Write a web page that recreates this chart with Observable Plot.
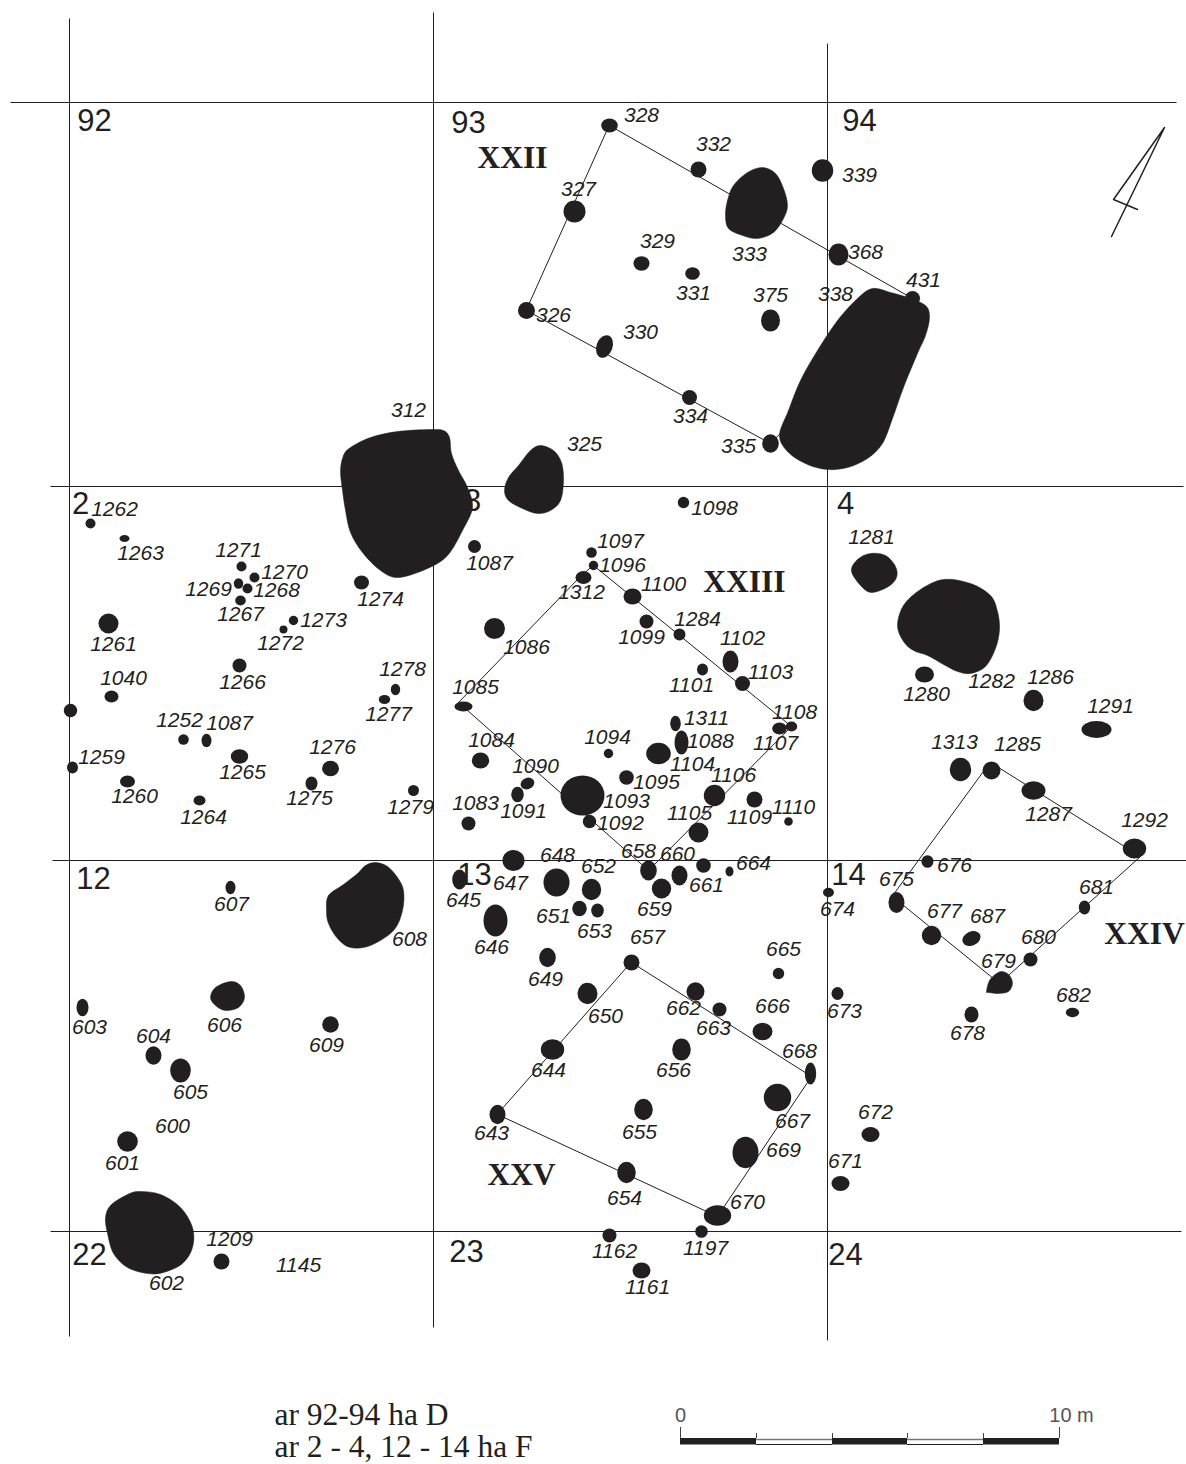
<!DOCTYPE html>
<html><head><meta charset="utf-8">
<script src="https://cdn.jsdelivr.net/npm/d3@7"></script>
<script src="https://cdn.jsdelivr.net/npm/@observablehq/plot@0.6"></script>
<style>html,body{margin:0;padding:0;background:#fff}svg{display:block}</style>
</head><body><div id="chart"></div>
<script>
// grid: [x1,y1,x2,y2]
const gridLines=[[10,102,1176,102],[50,486,1183,486],[52,860,1186,860],[50,1231,1181,1231],[69,18,69,1336],[433,12,433,1327],[827,43,827,1340]];
const squareLabels=[["92",94,121],["93",468,123],["94",859,121],["2",80,504],["3",472,501],["4",845,504],["12",93,879],["13",474,875],["14",848,875],["22",89,1255],["23",466,1252],["24",845,1255]];
const houseLabels=[["XXII",512,157],["XXIII",744,581],["XXIV",1144,933],["XXV",521,1174]];
const houses={
 XXII:[[609,125],[912,298],[770,443],[526,310]],
 XXIII:[[593,565],[791,726],[648,870],[458,702],[578,578]],
 XXIV:[[990,762],[1140,856],[999,983],[892,896]],
 XXV:[[631,962],[811,1076],[717,1216],[497,1114]]
};
// pits: [x,y,rx,ry,rotation]
const pitsWest=[[90,523,5,5],[124,538,5,3.5],[241,566,5,5],[254,577,5,5],[238,583,4.7,5.3],[247,588,5,5],[240,600,5.3,5],[361,582,7.5,7],[293,620,4.7,4.7],[283,629,4,4],[108,623,10,10],[239,665,7,7],[111,696,7,6],[70,710,6.7,6.7],[183,739,5.3,5.3],[206,740,5,6.7],[239,756,8.7,7.3],[72,767,5.5,6],[127,781,7.5,6],[199,800,6,5],[330,768,8.5,7.7],[311,783,6,7],[413,790,5.5,5.5],[395,689,4.7,5.7],[384,699,5.7,4.5]];
const pitsCentre=[[683,502,5.7,5.7],[474,546,6.5,6.5],[591,552,5.3,5.3],[593,565,4.7,4.7],[583,577,8,6.5],[632,596,9,8],[494,628,10.5,10.5],[646,621,7,7],[679,634,6,6],[730,661,8,11],[702,669,5.5,6],[742,683,7.5,7.5],[463,706,9,5],[791,726,5.7,5],[779,728,7.3,6],[675,723,5.3,7.7],[681,742,7,12],[658,753,12.3,10.7],[608,753,4.7,4.7],[480,760,8.7,8],[626,777,7.3,7.3],[527,783,7,5.7,-20],[517,794,6.3,7.7],[582,795,22,20],[714,795,10.7,10.7],[754,799,8,8],[788,821,4.3,4.3],[468,823,7,7],[589,821,6.7,6.7],[698,832,10,10]];
const pitsSouth=[[513,860,11,10.5],[459,879,7.3,10],[556,882,13,14],[591,889,9.7,10.7],[579,908,7.3,7.7],[597,910,6.3,7],[495,920,12,16],[648,870,8.3,10],[679,875,8,10],[661,888,9.7,10],[703,865,7.3,7.3],[729,871,4,5],[828,892,5.5,4.7],[631,962,8,8],[778,973,5.7,5.7],[547,957,8.3,9.7],[587,993,10,10.7],[695,991,9,9.3],[719,1009,7,7],[762,1031,10,8.7],[810,1073,5.7,11],[552,1049,11.7,10.3],[681,1049,9.3,11],[777,1097,13.7,13.7],[643,1109,9.3,10.7],[497,1114,8,9.7],[745,1152,13,15.7],[626,1172,9.3,10.7],[717,1215,13.7,10.3],[701,1231,6.3,6.3],[609,1235,7,7],[641,1270,9,8],[870,1134,9,7.5],[840,1183,9,7.5]];
const pitsEast=[[924,674,9.5,8],[1033,700,10,10.7],[1096,729,15,8.5],[960,769,10.7,11.7],[991,770,9,9],[1033,790,12,9.3],[1134,848,11.7,10],[927,861,6,6.3],[896,902,8,10.5],[1084,907,5.7,7],[931,935,9.7,9.7],[971,938,9.5,7,-25],[1030,959,7,7],[1072,1012,6.7,4.7],[971,1014,7,8],[837,993,6,6.5]];
const pitsNorth=[[609,125,8.3,7],[698,169,8,8],[822,170,10.7,11.3],[574,211,11,11],[641,263,8,7.3],[692,273,7.3,6.3],[838,254,10,11],[770,320,9.5,11],[912,298,7.5,7.5],[526,310,8.5,8.5],[604,346,8,11.7,20],[689,397,7.5,7.5],[770,443,8.3,9.3]];
const pitsSouthWest=[[230,887,5,6.7],[82,1007,6,8.7],[330,1024,8.3,8.3],[153,1055,8,9.3],[180,1070,10.3,12],[127,1141,10.3,10.3],[221,1261,8,8]];
// large irregular pits: outlines
const blobs={
 "1281":[[851,571],[857,559],[870,553],[885,555],[895,566],[896,577],[888,586],[872,592],[862,587]],
 "1282":[[897,625],[903,605],[920,589],[943,579],[970,583],[990,595],[997,611],[999,629],[995,648],[985,666],[970,673],[957,671],[943,664],[927,655],[913,650],[903,641]],
 "679":[[986,991],[989,980],[996,973],[1002,971],[1009,975],[1012,983],[1008,991],[998,993],[988,992]],
 "333":[[725,215],[727,200],[733,185],[747,172],[762,167],[775,173],[783,188],[787,205],[783,218],[773,232],[757,238],[742,235],[728,228]],
 "338":[[779,435],[788,410],[800,380],[817,350],[837,320],[857,298],[872,288],[890,292],[907,297],[925,305],[929,317],[925,335],[917,353],[903,387],[892,418],[882,443],[867,458],[847,467],[827,469],[807,464],[788,452]],
 "325":[[504,490],[508,477],[518,465],[530,450],[540,445],[553,450],[561,462],[563,480],[560,500],[550,510],[537,513],[522,508],[508,500]],
 "312":[[340,470],[343,455],[350,447],[370,437],[397,431],[430,429],[443,430],[449,437],[451,453],[458,470],[467,487],[472,507],[462,530],[447,555],[427,568],[398,577],[380,570],[362,552],[350,532],[345,510],[342,490]],
 "608":[[326,910],[328,895],[343,884],[357,873],[365,865],[375,862],[387,866],[397,877],[403,890],[402,910],[393,930],[370,945],[350,947],[337,938],[328,923]],
 "606":[[210,997],[215,987],[230,981],[240,985],[244,997],[238,1007],[225,1010],[215,1005]],
 "602":[[105,1217],[110,1205],[125,1195],[138,1191],[160,1194],[180,1207],[192,1227],[192,1247],[182,1263],[163,1272],[147,1273],[127,1267],[113,1253],[107,1233]]
};
// pit numbers: [text,x,y]
const numbersWest=[["1262",115,509],["1263",141,553],["1271",239,550],["1270",285,572],["1269",209,589],["1268",277,590],["1267",241,614],["1274",381,599],["1273",324,620],["1272",281,643],["1261",114,644],["1266",243,682],["1278",403,669],["1277",389,714],["1040",124,678],["1252",180,720],["1087",230,723],["1259",102,757],["1265",243,772],["1276",333,747],["1260",135,796],["1275",310,798],["1264",204,817],["1279",411,807]];
const numbersCentre=[["1098",715,508],["1087",490,563],["1097",621,541],["1096",623,565],["1312",582,592],["1100",664,584],["1086",527,647],["1099",642,637],["1284",698,619],["1102",743,638],["1101",692,685],["1103",771,672],["1085",476,687],["1108",795,712],["1107",776,743],["1311",707,718],["1088",711,741],["1104",693,764],["1094",608,737],["1084",492,740],["1095",657,782],["1090",536,766],["1091",524,811],["1093",627,801],["1106",734,775],["1109",750,817],["1110",794,807],["1083",476,803],["1092",621,823],["1105",690,813]];
const numbersSouth=[["647",511,883],["645",464,900],["648",558,855],["652",599,866],["651",554,916],["653",595,931],["646",492,947],["658",639,851],["660",678,854],["659",655,909],["661",707,885],["664",754,863],["657",648,937],["665",784,949],["649",546,979],["650",606,1016],["662",684,1008],["663",714,1028],["666",773,1006],["668",800,1051],["644",549,1070],["656",674,1070],["667",793,1121],["655",640,1132],["643",492,1133],["669",784,1150],["654",625,1198],["670",748,1202],["1197",706,1248],["1162",615,1251],["1161",648,1287],["672",876,1112],["671",846,1161]];
const numbersEast=[["1281",872,537],["1282",992,681],["1280",927,694],["1286",1051,677],["1291",1111,706],["1313",955,742],["1285",1018,744],["1287",1049,814],["1292",1145,820],["676",955,865],["675",897,879],["681",1097,887],["677",945,911],["687",988,916],["680",1039,937],["679",999,961],["682",1074,995],["678",968,1033],["673",845,1011],["674",838,909]];
const numbersNorth=[["328",642,115],["332",714,144],["339",860,175],["333",750,254],["327",579,189],["329",658,241],["331",694,293],["368",866,252],["375",771,295],["338",836,294],["431",924,280],["326",554,315],["330",641,332],["334",691,416],["335",739,446],["325",585,444],["312",409,410]];
const numbersSouthWest=[["607",232,904],["608",410,939],["606",225,1025],["603",90,1027],["609",327,1045],["604",154,1036],["605",191,1092],["600",173,1126],["601",123,1163],["602",167,1283],["1209",230,1239],["1145",299,1265]];
const northArrow=[[1111,236],[1164,127],[1113,199],[1137,209]];
const caption=[["ar 92-94 ha D",274,1414],["ar 2 - 4, 12 - 14 ha F",274,1446.5]];
const scaleBlack=[[680,756],[832,907],[983,1059]];
const scaleWhite=[[756,832],[907,983]];
const scaleTicksLong=[680,1059];
const scaleTicksShort=[756,832,907,983];
const scaleTexts=[["0",680,1415],["10 m",1071,1415]];

const ink="#231f20";
const pits=[...pitsWest,...pitsCentre,...pitsSouth,...pitsEast,...pitsNorth,...pitsSouthWest];
const numbers=[...numbersWest,...numbersCentre,...numbersSouth,...numbersEast,...numbersNorth,...numbersSouthWest];
const blobRows=Object.entries(blobs).flatMap(([k,v])=>v.map(p=>({k,x:p[0],y:p[1]})));
const houseRows=Object.entries(houses).flatMap(([k,v])=>v.map(p=>({k,x:p[0],y:p[1]})));
const meanR=d=>Math.sqrt(d[2]*d[3]);

// a dot is stretched to its ellipse after the library has placed it
function ellipse(index,scales,values,dims,ctx,next){
  const g=next(index,scales,values,dims,ctx);
  g.querySelectorAll("circle").forEach((c,k)=>{
    const d=pits[index[k]],cx=+c.getAttribute("cx"),cy=+c.getAttribute("cy"),r=meanR(d);
    c.setAttribute("transform",`translate(${cx} ${cy}) rotate(${d[4]||0}) scale(${d[2]/r} ${d[3]/r}) translate(${-cx} ${-cy})`);
  });
  return g;
}
const plot=Plot.plot({
  width:1186,height:1464,margin:0,
  x:{domain:[0,1186],range:[0,1186],axis:null},
  y:{domain:[0,1464],range:[0,1464],axis:null},
  r:{type:"identity"},
  style:{background:"#fff"},
  marks:[
    Plot.link(gridLines,{x1:d=>d[0],y1:d=>d[1],x2:d=>d[2],y2:d=>d[3],stroke:ink,strokeWidth:1}),
    Plot.text(squareLabels,{text:d=>d[0],x:d=>d[1],y:d=>d[2],fontSize:31,fontFamily:"Liberation Sans",fill:ink}),
    Plot.line(houseRows,{x:"x",y:"y",z:"k",curve:"linear-closed",stroke:ink,strokeWidth:1}),
    Plot.line(blobRows,{x:"x",y:"y",z:"k",curve:"cardinal-closed",fill:ink,stroke:ink,strokeWidth:0.5}),
    Plot.dot(pits,{x:d=>d[0],y:d=>d[1],r:meanR,fill:ink,stroke:"none",render:ellipse}),
    Plot.text(numbers,{text:d=>d[0],x:d=>d[1],y:d=>d[2],dx:-1,fontSize:21,fontStyle:"italic",fontFamily:"Liberation Sans",fill:ink}),
    Plot.text(houseLabels,{text:d=>d[0],x:d=>d[1],y:d=>d[2],fontSize:31.5,fontWeight:"bold",fontFamily:"Liberation Serif",fill:ink}),
    Plot.line(northArrow,{x:d=>d[0],y:d=>d[1],stroke:ink,strokeWidth:1.5,curve:"linear"}),
    Plot.text(caption,{text:d=>d[0],x:d=>d[1],y:d=>d[2],textAnchor:"start",fontSize:31.5,fontFamily:"Liberation Serif",fill:ink}),
    Plot.rect(scaleBlack,{x1:d=>d[0],x2:d=>d[1],y1:1438,y2:1444.5,fill:ink}),
    Plot.ruleY(scaleWhite,{y:1439,x1:d=>d[0],x2:d=>d[1],stroke:"#777",strokeWidth:1.5}),
    Plot.ruleY(scaleWhite,{y:1444,x1:d=>d[0],x2:d=>d[1],stroke:ink,strokeWidth:1}),
    Plot.ruleX(scaleTicksLong,{x:d=>d,y1:1427,y2:1438,stroke:"#444",strokeWidth:1}),
    Plot.ruleX(scaleTicksShort,{x:d=>d,y1:1433,y2:1438,stroke:"#444",strokeWidth:1}),
    Plot.text(scaleTexts,{text:d=>d[0],x:d=>d[1],y:d=>d[2],fontSize:20,fontFamily:"Liberation Sans",fill:"#555"})
  ]
});
document.getElementById("chart").append(plot);
</script></body></html>
